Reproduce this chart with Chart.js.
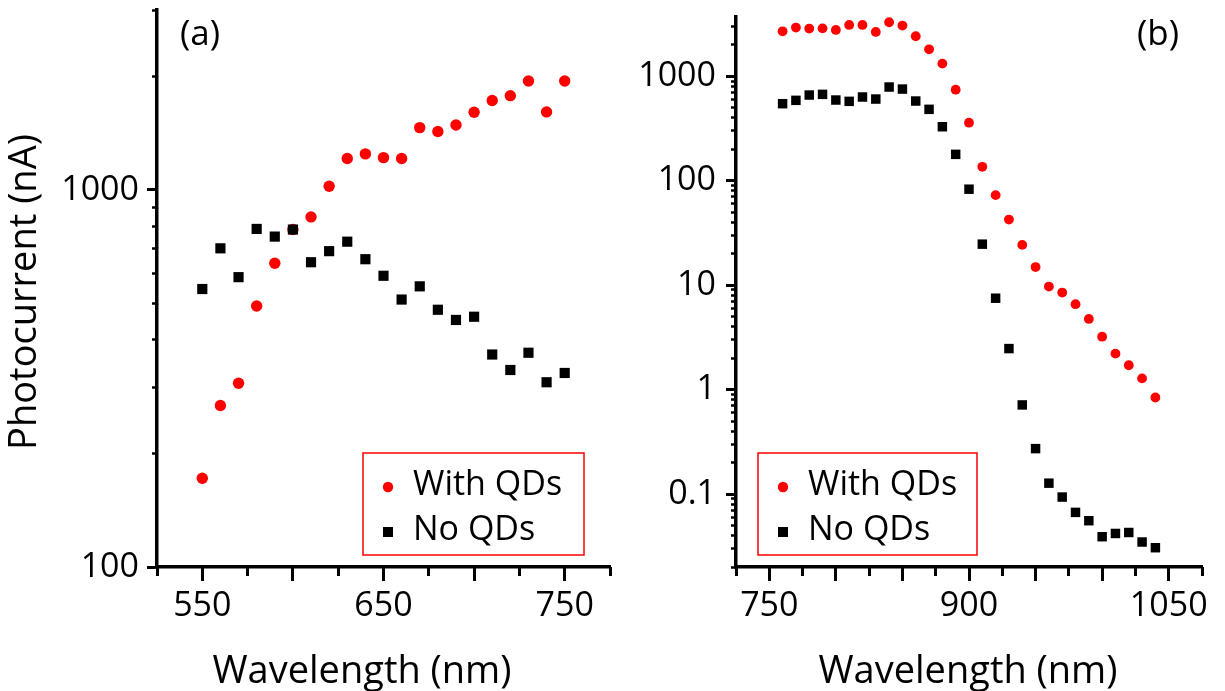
<!DOCTYPE html>
<html><head><meta charset="utf-8">
<script src="https://cdn.jsdelivr.net/npm/chart.js@4.4.1/dist/chart.umd.min.js"></script>
<style>
html,body{margin:0;padding:0;background:#fff;}
#wrap{position:relative;width:1225px;height:691px;overflow:hidden;background:#fff;}
canvas{position:absolute;top:0;}
#ca{left:0;} #cb{left:620px;}
</style></head><body>
<div id="wrap"><canvas id="ca" width="620" height="691"></canvas><canvas id="cb" width="605" height="691"></canvas></div>
<script>
// ---------- data: panel (a) ----------
const wavelengthA = [550,560,570,580,590,600,610,620,630,640,650,660,670,680,690,700,710,720,730,740,750];
const withQDsA = [172,268,307,492,639,785,848,1023,1211,1246,1218,1211,1463,1428,1486,1607,1726,1778,1945,1610,1945];
const noQDsA   = [546,700,587,788,752,785,643,688,729,655,592,512,555,481,452,461,366,333,370,309,327];
// ---------- data: panel (b) ----------
const wavelengthB = [760,770,780,790,800,810,820,830,840,850,860,870,880,890,900,910,920,930,940,950,960,970,980,990,1000,1010,1020,1030,1040];
const withQDsB = [2700,2930,2866,2880,2780,3105,3105,2660,3295,3063,2420,1815,1324,745,360,136,72.8,42.5,24.3,14.9,9.7,8.5,6.57,4.75,3.21,2.21,1.71,1.28,0.84];
const noQDsB   = [547,589,662,672,593,576,634,606,790,755,580,483,329,179,83,24.7,7.5,2.47,0.713,0.272,0.127,0.0935,0.0667,0.0555,0.039,0.0419,0.0428,0.0347,0.0306];
// ---------- labels / ticks ----------
const seriesNames = ['With QDs','No QDs'];
const xTitle = 'Wavelength (nm)';
const yTitle = 'Photocurrent (nA)';
const panelLabels = ['(a)','(b)'];
const xMajorTicksA = [550,600,650,700,750];
const xLabelsA = [550,650,750];
const xMajorTicksB = [750,800,850,900,950,1000,1050];
const xLabelsB = [750,900,1050];

const FONT = '"Open Sans", "Noto Sans", sans-serif';
const pts = (xs, ys) => xs.map((x,i)=>({x, y: ys[i]}));
const sig = v => v / Math.pow(10, Math.floor(Math.log10(v) + 1e-9));
const isIntSig = v => Math.abs(sig(v) - Math.round(sig(v))) < 1e-6;
const isPow10 = v => Math.abs(Math.log10(v) - Math.round(Math.log10(v))) < 1e-6;
const noPad = s => { s.paddingTop = 0; s.paddingBottom = 0; s.paddingLeft = 0; s.paddingRight = 0; };

function textPlugin(c){
  return {id:'panelText', afterDraw(chart){
    const ctx = chart.ctx; ctx.save();
    ctx.fillStyle = '#000';
    ctx.font = '38px ' + FONT; ctx.textAlign = 'center'; ctx.textBaseline = 'alphabetic';
    ctx.fillText(xTitle, c.xTitleX, 683);
    if (c.yTitle){
      ctx.save(); ctx.translate(36, 292); ctx.rotate(-Math.PI/2);
      ctx.fillText(yTitle, 0, 0); ctx.restore();
    }
    ctx.font = '35px ' + FONT; ctx.textAlign = 'left';
    ctx.fillText(c.label, c.labelX, 45);
    // legend
    ctx.strokeStyle = '#ff0000'; ctx.lineWidth = 1.5;
    ctx.strokeRect(c.legX, 453, c.legW, 102);
    ctx.fillStyle = '#ff0000';
    ctx.beginPath(); ctx.arc(c.legX + 25, 487, 5.2, 0, Math.PI*2); ctx.fill();
    ctx.fillStyle = '#000';
    ctx.fillRect(c.legX + 20, 527, 10, 10);
    ctx.font = '34px ' + FONT;
    ctx.fillText(seriesNames[0], c.legX + 50, 495);
    ctx.fillText(seriesNames[1], c.legX + 50, 540);
    ctx.restore();
  }};
}

function makeChart(id, xs, s1, s2, o){
  const xMinor = {type:'linear', position:'bottom', min:o.xmin, max:o.xmax, weight:0,
    ticks:{display:false, stepSize:25},
    grid:{drawOnChartArea:false, tickLength:9, tickWidth:3, tickColor:'#000'},
    border:{display:false}, afterFit(s){ s.height = 0; noPad(s); }};
  const xMajor = {type:'linear', position:'bottom', min:o.xmin, max:o.xmax, weight:1,
    afterBuildTicks(s){ s.ticks = o.xMajorTicks.map(v => ({value:v})); },
    ticks:{autoSkip:false, maxRotation:0, minRotation:0, padding:5,
      color:'#000', font:{family:FONT, size:34},
      callback: v => o.xLabels.includes(v) ? String(v) : ''},
    grid:{drawOnChartArea:false, tickLength:14, tickWidth:3, tickColor:'#000'},
    border:{display:true, color:'#000', width:3.5}, afterFit(s){ s.height = 124; noPad(s); }};
  const yMinor = {type:'logarithmic', position:'left', min:o.ymin, max:o.ymax, weight:0,
    ticks:{display:false},
    afterBuildTicks(s){ s.ticks = s.ticks.filter(t => isIntSig(t.value)); },
    grid:{drawOnChartArea:false, tickLength:5, tickWidth:2.5, tickColor:'#000'},
    border:{display:false}, afterFit(s){ s.width = 0; noPad(s); }};
  const yMajor = {type:'logarithmic', position:'left', min:o.ymin, max:o.ymax, weight:1,
    afterBuildTicks(s){ s.ticks = s.ticks.filter(t => isPow10(t.value)); },
    ticks:{padding:o.ypad, color:'#000', font:{family:FONT, size:34}, autoSkip:false,
      callback: v => String(+v.toPrecision(6))},
    grid:{drawOnChartArea:false, tickLength:10, tickWidth:3, tickColor:'#000'},
    border:{display:true, color:'#000', width:3.5}, afterFit(s){ s.width = o.yw; noPad(s); }};
  return new Chart(document.getElementById(id), {
    type:'scatter',
    data:{datasets:[
      {label:seriesNames[1], data:pts(xs, s2), pointStyle:'rect', pointRadius:o.sq, pointHoverRadius:o.sq,
        backgroundColor:'#000', borderColor:'#000', borderWidth:0},
      {label:seriesNames[0], data:pts(xs, s1), pointStyle:'circle', pointRadius:o.cr, pointHoverRadius:o.cr,
        backgroundColor:'#ff0000', borderColor:'#ff0000', borderWidth:0}
    ]},
    options:{responsive:false, animation:false, devicePixelRatio:1,
      layout:{padding:{top:o.top, right:o.right, left:0, bottom:0}},
      plugins:{legend:{display:false}, tooltip:{enabled:false}},
      scales:{x:xMinor, xMajor:xMajor, y:yMinor, yMajor:yMajor}},
    plugins:[textPlugin(o.text)]
  });
}

function build(){
  makeChart('ca', wavelengthA, withQDsA, noQDsA, {xmin:525, xmax:775, ymin:100, ymax:3000,
    xMajorTicks:xMajorTicksA, xLabels:xLabelsA, yw:157, ypad:8, top:10, right:10, cr:5.7, sq:7.2,
    text:{xTitleX:362, yTitle:true, label:panelLabels[0], labelX:180, legX:363, legW:221}});
  makeChart('cb', wavelengthB, withQDsB, noQDsB, {xmin:725, xmax:1075, ymin:0.02, ymax:3700,
    xMajorTicks:xMajorTicksB, xLabels:xLabelsB, yw:116, ypad:10, top:17, right:23, cr:4.9, sq:6.7,
    text:{xTitleX:348, yTitle:false, label:panelLabels[1], labelX:517, legX:138, legW:219}});
}
if (document.fonts && document.fonts.load) {
  Promise.all([document.fonts.load('34px "Open Sans"')]).then(build, build);
} else build();
</script>
</body></html>
